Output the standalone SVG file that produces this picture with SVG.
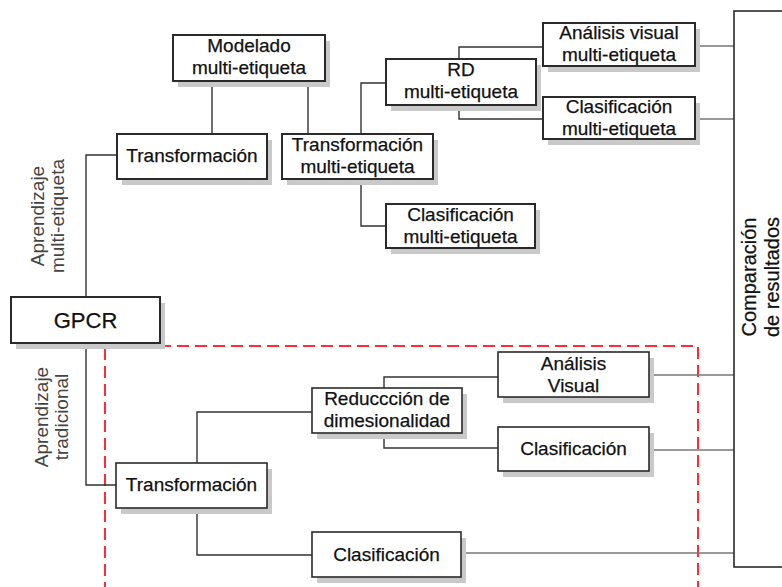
<svg xmlns="http://www.w3.org/2000/svg" width="782" height="587" viewBox="0 0 782 587">
<defs>
<filter id="soft" x="-10%" y="-10%" width="120%" height="130%"><feGaussianBlur stdDeviation="0.6"/></filter>
</defs>
<style>
.box{fill:#fff;stroke:#2a2a2a;stroke-width:2}
.shadow{fill:#c9c9c9;filter:url(#soft)}
.t{font-family:"Liberation Sans",Arial,sans-serif;font-size:19px;fill:#111;stroke:#111;stroke-width:0.25;text-anchor:middle}
.big{font-size:22px}
.lab{font-family:"Liberation Sans",Arial,sans-serif;font-size:19px;fill:#444;text-anchor:middle}
.ln{fill:none;stroke:#333;stroke-width:1.4}
.gl{fill:none;stroke:#777;stroke-width:1.4}
.dash{fill:none;stroke:#ff2a3a;stroke-width:2;stroke-dasharray:12 6}
</style>
<rect width="782" height="587" fill="#fff"/>

<g id="region-tradicional">
<rect class="dash" x="105" y="346" width="593" height="260"/>
</g>

<g id="connectors">
<path class="ln" d="M212,81V134"/>
<path class="ln" d="M308,81V134"/>
<path class="ln" d="M86,297V155H117"/>
<path class="ln" d="M86,343V485H116"/>
<path class="ln" d="M361,134V83H386"/>
<path class="ln" d="M361,179V226H386"/>
<path class="ln" d="M459,59V47H543"/>
<path class="ln" d="M459,105V119H543"/>
<path class="gl" d="M695,46H734"/>
<path class="gl" d="M695,119H734"/>
<path class="ln" d="M197,463V412H312"/>
<path class="ln" d="M197,508V555H312"/>
<path class="ln" d="M384,388V377H498"/>
<path class="ln" d="M384,433V448H498"/>
<path class="gl" d="M649,375H734"/>
<path class="gl" d="M649,450H734"/>
<path class="gl" d="M461,553H734"/>
</g>

<g id="modelado">
<rect class="shadow" x="178" y="41" width="152" height="46"/>
<rect class="box" x="173" y="35" width="152" height="46"/>
<text class="t" x="249" y="52">Modelado</text>
<text class="t" x="249" y="74">multi-etiqueta</text>
</g>

<g id="transformacion-top">
<rect class="shadow" x="122" y="140" width="150" height="45"/>
<rect class="box" x="117" y="134" width="150" height="45"/>
<text class="t" x="192" y="162">Transformación</text>
</g>

<g id="transformacion-multi">
<rect class="shadow" x="287" y="140" width="151" height="45"/>
<rect class="box" x="282" y="134" width="151" height="45"/>
<text class="t" x="357.5" y="151">Transformación</text>
<text class="t" x="357.5" y="173">multi-etiqueta</text>
</g>

<g id="rd-multi">
<rect class="shadow" x="391" y="65" width="150" height="46"/>
<rect class="box" x="386" y="59" width="150" height="46"/>
<text class="t" x="461" y="76">RD</text>
<text class="t" x="461" y="98">multi-etiqueta</text>
</g>

<g id="analisis-multi">
<rect class="shadow" x="548" y="29" width="152" height="43"/>
<rect class="box" x="543" y="23" width="152" height="43"/>
<text class="t" x="619" y="39">Análisis visual</text>
<text class="t" x="619" y="61">multi-etiqueta</text>
</g>

<g id="clasificacion-multi-rd">
<rect class="shadow" x="548" y="103" width="152" height="42"/>
<rect class="box" x="543" y="97" width="152" height="42"/>
<text class="t" x="619" y="113">Clasificación</text>
<text class="t" x="619" y="135">multi-etiqueta</text>
</g>

<g id="clasificacion-multi">
<rect class="shadow" x="391" y="210" width="149" height="44"/>
<rect class="box" x="386" y="204" width="149" height="44"/>
<text class="t" x="460.5" y="221">Clasificación</text>
<text class="t" x="460.5" y="243">multi-etiqueta</text>
</g>

<g id="gpcr">
<rect class="shadow" x="16" y="303" width="149" height="46"/>
<rect class="box" x="11" y="297" width="149" height="46"/>
<text class="t big" x="85.5" y="328">GPCR</text>
</g>

<g id="transformacion-low">
<rect class="shadow" x="121" y="469" width="151" height="45"/>
<rect class="box" x="116" y="463" width="151" height="45" style="stroke-width:1.6"/>
<text class="t" x="191.5" y="491">Transformación</text>
</g>

<g id="reduccion">
<rect class="shadow" x="317" y="394" width="150" height="45"/>
<rect class="box" x="312" y="388" width="150" height="45" style="stroke-width:1.6"/>
<text class="t" x="387" y="405">Reduccción de</text>
<text class="t" x="387" y="427">dimesionalidad</text>
</g>

<g id="analisis-visual">
<rect class="shadow" x="503" y="358" width="151" height="45"/>
<rect class="box" x="498" y="352" width="151" height="45" style="stroke-width:1.6"/>
<text class="t" x="573.5" y="370">Análisis</text>
<text class="t" x="573.5" y="392">Visual</text>
</g>

<g id="clasificacion-rd">
<rect class="shadow" x="503" y="433" width="151" height="44"/>
<rect class="box" x="498" y="427" width="151" height="44" style="stroke-width:1.6"/>
<text class="t" x="573.5" y="455">Clasificación</text>
</g>

<g id="clasificacion-low">
<rect class="shadow" x="317" y="538" width="149" height="45"/>
<rect class="box" x="312" y="532" width="149" height="45" style="stroke-width:1.6"/>
<text class="t" x="386.5" y="561">Clasificación</text>
</g>

<g id="comparacion">
<rect class="box" x="734" y="11" width="80" height="556" style="stroke-width:1.6"/>
<text class="t" x="756" y="277" transform="rotate(-90 756 277)" style="font-size:20px">Comparación</text>
<text class="t" x="779" y="277" transform="rotate(-90 779 277)" style="font-size:20px">de resultados</text>
</g>

<g id="labels">
<text class="lab" x="44" y="216" transform="rotate(-90 44 216)">Aprendizaje</text>
<text class="lab" x="64" y="216" transform="rotate(-90 64 216)">multi-etiqueta</text>
<text class="lab" x="48" y="417" transform="rotate(-90 48 417)">Aprendizaje</text>
<text class="lab" x="68" y="417" transform="rotate(-90 68 417)">tradicional</text>
</g>
</svg>
